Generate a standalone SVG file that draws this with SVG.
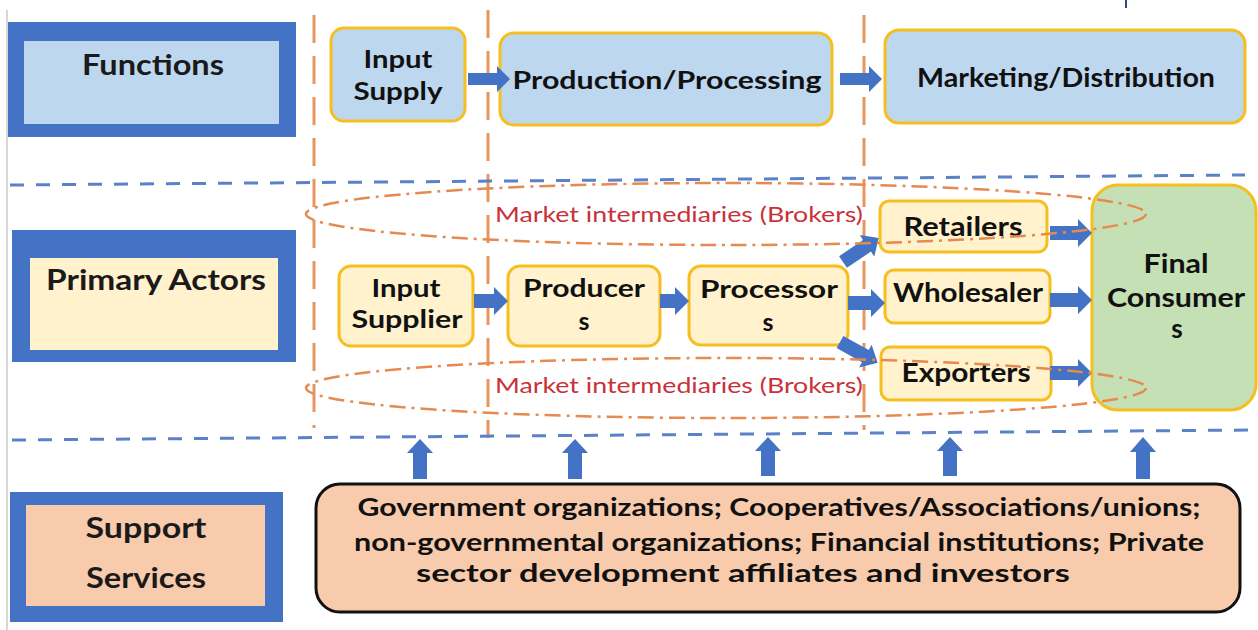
<svg xmlns="http://www.w3.org/2000/svg" width="1258" height="630" viewBox="0 0 1258 630">
  <defs>
    <style>
      .band { fill: #4472c4; }
      .fnbox { fill: #bdd7ee; stroke: #f5bf1f; stroke-width: 3; }
      .actor { fill: #fff2cc; stroke: #f5bf1f; stroke-width: 3; }
      .final { fill: #c5e0b4; stroke: #f5bf1f; stroke-width: 3; }
      .support { fill: #f8cbad; stroke: #111; stroke-width: 3; }
      .arr { fill: #4472c4; }
      .vdiv { stroke: #e8965f; stroke-width: 3; stroke-dasharray: 28 13; fill: none; }
      .hdiv { stroke: #5b82c8; stroke-width: 3; stroke-dasharray: 14 12; fill: none; }
      .broker { stroke: #e58a50; stroke-width: 2.5; stroke-dasharray: 16 6 3 6; fill: none; }
      .hdr { font-family: Lato, "Open Sans", sans-serif; font-weight: bold; font-size: 28px; fill: #1a1a1a; text-anchor: middle; }
      .lbl { font-family: Lato, "Open Sans", sans-serif; font-weight: bold; font-size: 25px; fill: #111; text-anchor: middle; }
      .lbl2 { font-family: Lato, "Open Sans", sans-serif; font-weight: bold; font-size: 26px; fill: #111; text-anchor: middle; }
      .brk { font-family: Lato, "Open Sans", sans-serif; font-size: 21px; fill: #c8323a; }
      .sup { font-family: Lato, "Open Sans", sans-serif; font-weight: bold; font-size: 24px; fill: #111; text-anchor: middle; }
    </style>
  </defs>

  <rect width="1258" height="630" fill="#ffffff"/>
  <!-- page edge and corner mark -->
  <line x1="7" y1="10" x2="7" y2="630" stroke="#c8c8c8" stroke-width="1.5"/>
  <line x1="1126" y1="0" x2="1126" y2="8" stroke="#2e4a7a" stroke-width="2"/>

  <!-- row headers -->
  <g id="hdr-functions">
    <rect class="band" x="8" y="22" width="288" height="115"/>
    <rect x="24" y="41" width="255" height="83" fill="#bdd7ee"/>
    <text class="hdr" x="153" y="75" textLength="142" lengthAdjust="spacingAndGlyphs">Functions</text>
  </g>
  <g id="hdr-actors">
    <rect class="band" x="12" y="230" width="284" height="132"/>
    <rect x="30" y="258" width="248" height="92" fill="#fff2cc"/>
    <text class="hdr" x="156" y="290" textLength="220" lengthAdjust="spacingAndGlyphs">Primary Actors</text>
  </g>
  <g id="hdr-support">
    <rect class="band" x="10" y="492" width="273" height="130"/>
    <rect x="26" y="505" width="239" height="101" fill="#f8cbad"/>
    <text class="hdr" x="146" y="538" textLength="121" lengthAdjust="spacingAndGlyphs">Support</text>
    <text class="hdr" x="146" y="588" textLength="120" lengthAdjust="spacingAndGlyphs">Services</text>
  </g>

  <!-- stage dividers -->
  <g id="dividers">
    <line class="vdiv" x1="314" y1="15" x2="314" y2="428"/>
    <line class="vdiv" x1="488" y1="10" x2="488" y2="438"/>
    <line class="vdiv" x1="864" y1="15" x2="864" y2="430"/>
    <line class="hdiv" x1="10" y1="185" x2="1245" y2="175"/>
    <line class="hdiv" x1="12" y1="440" x2="1250" y2="430"/>
  </g>

  <!-- function chain -->
  <g id="fn-input">
    <rect class="fnbox" x="331" y="28" width="134" height="93" rx="13"/>
    <text class="lbl" x="398" y="68" textLength="69" lengthAdjust="spacingAndGlyphs">Input</text>
    <text class="lbl" x="398" y="100" textLength="89" lengthAdjust="spacingAndGlyphs">Supply</text>
  </g>
  <g id="fn-production">
    <rect class="fnbox" x="500" y="33" width="332" height="92" rx="14"/>
    <text class="lbl" x="667" y="89" textLength="309" lengthAdjust="spacingAndGlyphs">Production/Processing</text>
  </g>
  <g id="fn-marketing">
    <rect class="fnbox" x="885" y="30" width="360" height="93" rx="14"/>
    <text class="lbl2" x="1066" y="87" textLength="298" lengthAdjust="spacingAndGlyphs">Marketing/Distribution</text>
  </g>

  <!-- primary actors -->
  <g id="act-input">
    <rect class="actor" x="339" y="266" width="134" height="80" rx="12"/>
    <text class="lbl" x="406" y="297" textLength="69" lengthAdjust="spacingAndGlyphs">Input</text>
    <text class="lbl" x="407" y="328" textLength="111" lengthAdjust="spacingAndGlyphs">Supplier</text>
  </g>
  <g id="act-producers">
    <rect class="actor" x="508" y="266" width="152" height="80" rx="12"/>
    <text class="lbl" x="584" y="297" textLength="122" lengthAdjust="spacingAndGlyphs">Producer</text>
    <text class="lbl" x="584" y="330">s</text>
  </g>
  <g id="act-processors">
    <rect class="actor" x="689" y="266" width="159" height="79" rx="12"/>
    <text class="lbl" x="769" y="298" textLength="138" lengthAdjust="spacingAndGlyphs">Processor</text>
    <text class="lbl" x="768" y="331">s</text>
  </g>
  <g id="act-retailers">
    <rect class="actor" x="880" y="201" width="167" height="51" rx="9"/>
    <text class="lbl2" x="963" y="236" textLength="119" lengthAdjust="spacingAndGlyphs">Retailers</text>
  </g>
  <g id="act-wholesaler">
    <rect class="actor" x="885" y="270" width="165" height="53" rx="9"/>
    <text class="lbl2" x="968" y="302" textLength="150" lengthAdjust="spacingAndGlyphs">Wholesaler</text>
  </g>
  <g id="act-exporters">
    <rect class="actor" x="881" y="347" width="170" height="53" rx="9"/>
    <text class="lbl2" x="966" y="382" textLength="129" lengthAdjust="spacingAndGlyphs">Exporters</text>
  </g>
  <g id="act-final">
    <rect class="final" x="1092" y="185" width="164" height="225" rx="26"/>
    <text class="lbl2" x="1176" y="273" textLength="65" lengthAdjust="spacingAndGlyphs">Final</text>
    <text class="lbl2" x="1176" y="307" textLength="138" lengthAdjust="spacingAndGlyphs">Consumer</text>
    <text class="lbl2" x="1177" y="338">s</text>
  </g>

  <!-- support services -->
  <g id="support-box">
    <rect class="support" x="316" y="484" width="924" height="128" rx="24"/>
    <text class="sup" x="779" y="516" textLength="843" lengthAdjust="spacingAndGlyphs">Government organizations; Cooperatives/Associations/unions;</text>
    <text class="sup" x="779" y="551" textLength="850" lengthAdjust="spacingAndGlyphs">non-governmental organizations; Financial institutions; Private</text>
    <text class="sup" x="743" y="582" textLength="654" lengthAdjust="spacingAndGlyphs">sector development affiliates and investors</text>
  </g>

  <!-- flow arrows -->
  <g id="connectors">
    <!-- functions -->
    <polygon class="arr" points="468,73 497,73 497,66 510,79 497,92 497,85 468,85"/>
    <polygon class="arr" points="840,73 869,73 869,66 882,79 869,92 869,85 840,85"/>
    <!-- actors -->
    <polygon class="arr" points="474,294 494,294 494,287 508,301 494,315 494,308 474,308"/>
    <polygon class="arr" points="660,294 675,294 675,287 689,301 675,315 675,308 660,308"/>
    <polygon class="arr" points="848,296 871,296 871,289 885,303 871,317 871,310 848,310"/>
    <g transform="translate(843,262) rotate(-34)">
      <polygon class="arr" points="0,-7 29,-7 29,-13 43,0 29,13 29,7 0,7"/>
    </g>
    <g transform="translate(840,342) rotate(29)">
      <polygon class="arr" points="0,-7 29,-7 29,-13 43,0 29,13 29,7 0,7"/>
    </g>
    <polygon class="arr" points="1050,226 1078,226 1078,219 1092,233 1078,247 1078,240 1050,240"/>
    <polygon class="arr" points="1050,293 1078,293 1078,286 1092,300 1078,314 1078,307 1050,307"/>
    <polygon class="arr" points="1050,366 1078,366 1078,359 1092,373 1078,387 1078,380 1050,380"/>
    <!-- support upward -->
    <polygon class="arr" points="413,479 413,453 407,453 420,439 433,453 427,453 427,479"/>
    <polygon class="arr" points="568,479 568,453 562,453 575,439 588,453 582,453 582,479"/>
    <polygon class="arr" points="761,476 761,451 755,451 768,437 781,451 775,451 775,476"/>
    <polygon class="arr" points="943,476 943,451 937,451 950,437 963,451 957,451 957,476"/>
    <polygon class="arr" points="1136,479 1136,452 1130,452 1143,437 1156,452 1150,452 1150,479"/>
  </g>

  <!-- broker rings -->
  <g id="brokers">
    <ellipse class="broker" cx="726" cy="214" rx="420" ry="31"/>
    <text class="brk" x="495" y="222" textLength="368" lengthAdjust="spacingAndGlyphs">Market intermediaries (Brokers)</text>
    <ellipse class="broker" cx="726" cy="388" rx="420" ry="30"/>
    <text class="brk" x="495" y="393" textLength="368" lengthAdjust="spacingAndGlyphs">Market intermediaries (Brokers)</text>
  </g>
</svg>
